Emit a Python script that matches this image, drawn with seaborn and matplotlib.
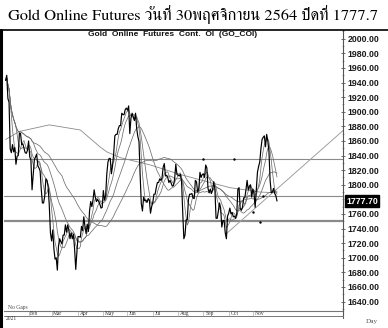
import matplotlib
matplotlib.use("Agg")
import matplotlib.pyplot as plt
import matplotlib.transforms as mtransforms
from matplotlib.lines import Line2D
import numpy as np
import pandas as pd
import seaborn as sns

# ---------------- data ----------------
title = "Gold Online Futures วันที่ 30พฤศจิกายน 2564 ปิดที่ 1777.7"
subtitle_words = ["Gold", "Online", "Futures", "Cont.", "OI", "(GO_COI)"]
start_date, end_date = "2021-01-04", "2021-11-30"
month_labels = ["Feb", "Mar", "Apr", "May", "Jun", "Jul", "Aug", "Sep", "Oct", "Nov"]

close_jan = [1943, 1950, 1918, 1913, 1849, 1844, 1855, 1845, 1851, 1828,
             1839, 1840, 1871, 1870, 1855, 1856, 1850, 1844, 1843, 1847]
close_feb = [1860, 1838, 1834, 1793, 1814, 1834, 1838, 1842, 1826, 1823,
             1819, 1794, 1775, 1775, 1784, 1808, 1806, 1797, 1771, 1734]
close_mar = [1723, 1738, 1712, 1698, 1700, 1683, 1716, 1726, 1722, 1719,
             1731, 1731, 1745, 1735, 1745, 1738, 1726, 1734, 1726, 1732,
             1712, 1684, 1708]
close_apr = [1729, 1729, 1728, 1743, 1737, 1756, 1743, 1733, 1746, 1736,
             1764, 1777, 1770, 1779, 1793, 1783, 1777, 1780, 1777, 1773,
             1768, 1769]
close_may = [1792, 1779, 1785, 1815, 1831, 1836, 1836, 1815, 1826, 1843,
             1867, 1869, 1869, 1877, 1881, 1881, 1898, 1896, 1896, 1903,
             1905]
close_jun = [1902, 1908, 1870, 1891, 1898, 1893, 1888, 1898, 1877, 1866,
             1859, 1813, 1774, 1764, 1783, 1778, 1779, 1776, 1781, 1779,
             1761, 1770]
close_jul = [1776, 1787, 1787, 1796, 1803, 1803, 1808, 1806, 1809, 1824,
             1829, 1812, 1813, 1810, 1803, 1806, 1802, 1798, 1799, 1808,
             1828, 1814]
close_aug = [1813, 1812, 1814, 1804, 1763, 1726, 1731, 1752, 1752, 1780,
             1787, 1787, 1788, 1782, 1781, 1806, 1804, 1790, 1794, 1817,
             1810, 1814]
close_sep = [1815, 1810, 1827, 1823, 1795, 1789, 1794, 1788, 1793, 1804,
             1794, 1754, 1754, 1764, 1775, 1768, 1742, 1751, 1751, 1734,
             1726, 1757]
close_oct = [1761, 1768, 1760, 1762, 1756, 1757, 1754, 1760, 1794, 1796,
             1767, 1765, 1769, 1782, 1782, 1793, 1806, 1793, 1798, 1800,
             1783]
close_nov = [1794, 1788, 1769, 1793, 1817, 1825, 1831, 1849, 1862, 1865,
             1867, 1852, 1869, 1860, 1846, 1806, 1789, 1790, 1795, 1788,
             1785, 1777.7]

ma_windows = [5, 10, 25, 50]

# long moving average: (trading-day index, value)
long_ma_idx = [0, 12, 38, 65, 82, 88, 100, 126, 152, 178, 195, 221, 236]
long_ma_val = [1862, 1873, 1882, 1875, 1852, 1845, 1837, 1827, 1814, 1803, 1796, 1790, 1789]

level_values = [1835, 1784, 1750]
level_widths = [0.8, 0.8, 1.6]

dot_idx = [172, 199, 215, 221, 224]
dot_val = [1835, 1835, 1762, 1749, 1784]

trend_idx = [192, 294]
trend_val = [1733, 1875]

last_close = 1777.7
ytick_values = list(range(1640, 2001, 20))

# ---------------- build ----------------
closes = (close_jan + close_feb + close_mar + close_apr + close_may + close_jun
          + close_jul + close_aug + close_sep + close_oct + close_nov)
dates = pd.bdate_range(start_date, end_date)
df = pd.DataFrame({"date": dates, "close": closes})
df["idx"] = np.arange(len(df))
month_start = df.groupby(df["date"].dt.month)["idx"].min().values[1:]

sns.set_theme(style="white")
plt.rcParams["font.family"] = ["Liberation Sans", "DejaVu Sans"]

W, H = 388, 328
fig = plt.figure(figsize=(W / 100, H / 100), dpi=100)
fig.patch.set_facecolor("white")

ax_l, ax_r, ax_t, ax_b = 4, 343, 30, 311
ax = fig.add_axes([ax_l / W, (H - ax_b) / H, (ax_r - ax_l) / W, (ax_b - ax_t) / H])
ax.set_facecolor("white")

px_per_day = 1.15
x0 = 5.6
ax.set_xlim(-(x0 - ax_l) / px_per_day, (ax_r - x0) / px_per_day)
ax.set_ylim(1627, 2012)

grey = "#8a8a8a"
for lv, lw in zip(level_values, level_widths):
    ax.axhline(lv, color=grey, lw=lw, zorder=1)

# trend line
sns.lineplot(x=trend_idx, y=trend_val, ax=ax, color="#a0a0a0", lw=0.7, zorder=1)

# long MA
sns.lineplot(x=long_ma_idx, y=long_ma_val, ax=ax, color=grey, lw=0.6, zorder=2)

# short moving averages
for w in ma_windows:
    ma = df["close"].rolling(w, min_periods=1).mean()
    sns.lineplot(x=df["idx"], y=ma, ax=ax, color="#6f6f6f", lw=0.55, zorder=2)

# price
sns.lineplot(data=df, x="idx", y="close", ax=ax, color="black", lw=0.85, zorder=3)

# markers
ax.scatter(dot_idx, dot_val, s=3, color="black", zorder=4, linewidths=0)

# axes styling
for s in ["top", "left"]:
    ax.spines[s].set_visible(False)
ax.spines["right"].set_color("#555555")
ax.spines["right"].set_linewidth(0.8)
ax.spines["bottom"].set_color("#777777")
ax.spines["bottom"].set_linewidth(0.8)
ax.set_xlabel("")
ax.set_ylabel("")
ax.yaxis.tick_right()
shown = [v for v in ytick_values if v != 1780]
ax.set_yticks(shown)
ax.set_yticklabels([f"{v:.2f}" for v in shown], fontsize=6.3, fontweight="bold",
                   color="#1a1a1a")
ax.set_yticks(np.arange(1630, 2011, 10), minor=True)
ax.tick_params(axis="y", which="major", direction="inout", length=3, width=0.6,
               color="#555555", pad=2, right=True, left=False)
ax.tick_params(axis="y", which="minor", direction="inout", length=1.5, width=0.5,
               color="#777777", right=True, left=False)
ax.set_xticks([])

# right axis line continues below the month strip
fig.add_artist(Line2D([ax_r / W, ax_r / W], [1 - ax_b / H, 1 - 318 / H],
                      color="#555555", lw=0.8, transform=fig.transFigure))

# last close box
trans_y = mtransforms.blended_transform_factory(ax.transAxes, ax.transData)
ax.text(1.0 + 3 / (ax_r - ax_l), last_close, f"{last_close:.2f}", transform=trans_y,
        fontsize=6.3, fontweight="bold", color="white", va="center", ha="left",
        bbox=dict(boxstyle="square,pad=0.12", fc="black", ec="black"))

# month labels between two lines at the bottom
trans_x = mtransforms.blended_transform_factory(ax.transData, fig.transFigure)
for m, lab in zip(month_start, month_labels):
    ax.text(m + 1.5, 1 - 313.3 / H, lab, transform=trans_x, fontsize=4,
            color="#333333", va="center", ha="left", family="Liberation Serif")
fig.add_artist(Line2D([ax_l / W, ax_r / W], [1 - 315.8 / H] * 2, color="#777777",
                      lw=0.7, transform=fig.transFigure))
for m in month_start:
    xp = (x0 + m * px_per_day) / W
    fig.add_artist(Line2D([xp, xp], [1 - 311 / H, 1 - 315.8 / H], color="#999999",
                          lw=0.4, transform=fig.transFigure))

fig.text(6 / W, 1 - 318.8 / H, "2021", fontsize=4, color="#333333", va="center",
         ha="left", family="Liberation Serif")
fig.text(8 / W, 1 - 307 / H, "No Gaps", fontsize=4, color="#444444", va="center",
         ha="left", family="Liberation Serif")
fig.text(366 / W, 1 - 322 / H, "Day", fontsize=5.2, color="#555555", va="center",
         ha="left", family="Liberation Serif")

# header
fig.add_artist(Line2D([0, 1], [1 - 29.5 / H] * 2, color="black", lw=1.2,
                      transform=fig.transFigure))
fig.add_artist(Line2D([1 / W, 1 / W], [0, 1 - 29.5 / H], color="black", lw=2.2,
                      transform=fig.transFigure))
fig.text(8 / W, 1 - 15 / H, title, fontsize=11.8, family=["FreeSerif"],
         color="black", va="center", ha="left")
fig.text(173 / W, 1 - 34.5 / H, "  ".join(subtitle_words), fontsize=6.0,
         fontweight="bold", color="#111111", va="center", ha="center")

fig.savefig("out.png", dpi=100, facecolor="white")
